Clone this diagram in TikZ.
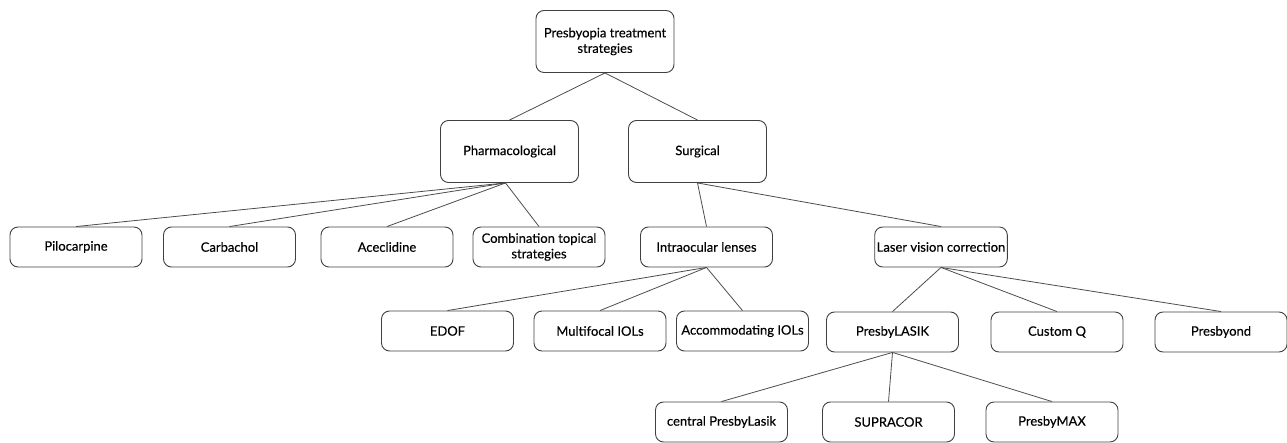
\documentclass[tikz,border=0pt]{standalone}
\usepackage{fontspec}
\setmainfont{Lato}
\newfontfamily\boxfont{Lato}[FakeBold=0.35]
\tikzset{
  box/.style={draw=black!75, rounded corners=8pt, line width=0.9pt,
    minimum width=132pt, minimum height=40pt, inner sep=2pt,
    align=center, font=\boxfont\fontsize{13}{15.5}\selectfont},
  bigbox/.style={box, minimum width=138pt, minimum height=62pt},
  link/.style={draw=black!70, line width=0.8pt}
}
\begin{document}
\begin{tikzpicture}[x=1pt, y=-1pt]
    \useasboundingbox (0,0) rectangle (1287,443);
    % top levels
    \node (root) at (605,41.5) [bigbox] {Presbyopia treatment\\strategies};
    \node (pharma) at (509.5,151.5) [bigbox] {Pharmacological};
    \node (surg) at (697.5,151.5) [bigbox] {Surgical};
    % pharmacological options
    \node (pilo) at (76,247) [box] {Pilocarpine}; \node (carb) at (229.5,247)
    [box] {Carbachol}; \node (acec) at (387,247) [box] {Aceclidine};
    \node (comb) at (539,247) [box] {Combination topical\\strategies};
    % surgical options
    \node (iol) at (706.5,247) [box] {Intraocular lenses};
    \node (laser) at (941,247) [box] {Laser vision correction};
    \node (edof) at (447.5,331) [box] {EDOF}; \node (multi) at (600,331)
    [box] {Multifocal IOLs}; \node (accom) at (742.5,331) [box]
    {Accommodating IOLs};
    \node (plasik) at (892.5,332) [box] {PresbyLASIK}; \node (custq) at
    (1057,332) [box] {Custom Q}; \node (pbyond) at (1221,332) [box]
    {Presbyond};
    \node (central) at (721.5,422) [box] {central PresbyLasik};
    \node (supra) at (888.5,422) [box] {SUPRACOR}; \node (pmax) at
    (1052,422) [box] {PresbyMAX};
    % links
    \draw[link] (root.south) -- (pharma.north); \draw[link] (root.south)
    -- (surg.north);
    \foreach \n in {pilo,carb,acec,comb}
      \draw[link] (pharma.south) ++(-4,0) -- (\n.north);
    \draw[link] (surg.south) -- (iol.north); \draw[link] (surg.south) --
    (laser.north);
    \foreach \n in {edof,multi,accom}
      \draw[link] (iol.south) -- (\n.north);
    \foreach \n in {plasik,custq,pbyond}
      \draw[link] (laser.south) -- (\n.north);
    \foreach \n in {central,supra,pmax}
      \draw[link] (plasik.south) -- (\n.north);
  \end{tikzpicture}
\end{document}
